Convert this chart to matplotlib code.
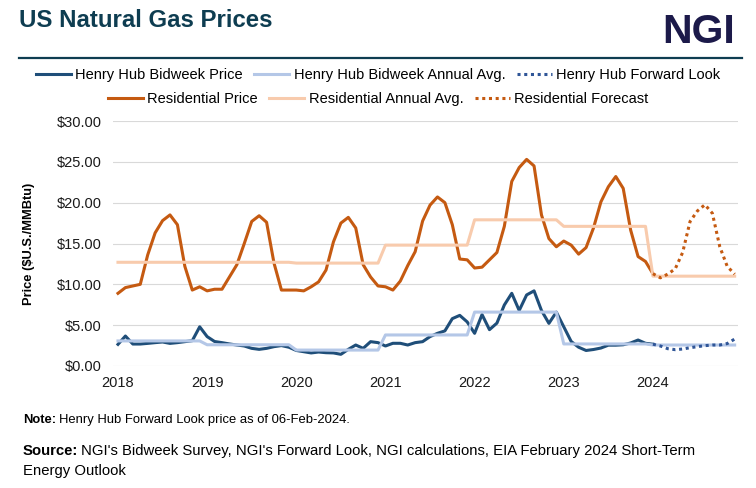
import numpy as np
import matplotlib
matplotlib.use("Agg")
import matplotlib.pyplot as plt
from matplotlib.lines import Line2D

plt.rcParams['font.family'] = ['Liberation Sans', 'DejaVu Sans']

# ---------------- data (monthly, Jan 2018 = index 0) ----------------
years = ['2018', '2019', '2020', '2021', '2022', '2023', '2024']

# Henry Hub bidweek price, Jan 2018 - Jan 2024
hh_bidweek = [2.65, 3.67, 2.69, 2.69, 2.77, 2.86, 2.94, 2.77, 2.86, 2.98, 3.10, 4.80,
              3.60, 3.00, 2.86, 2.70, 2.57, 2.45, 2.16, 2.04, 2.16, 2.37, 2.50, 2.30,
              1.90, 1.75, 1.60, 1.71, 1.63, 1.60, 1.43, 2.04, 2.57, 2.16, 2.98, 2.86,
              2.45, 2.78, 2.78, 2.57, 2.86, 2.98, 3.60, 4.00, 4.30, 5.80, 6.20, 5.40,
              4.00, 6.30, 4.45, 5.25, 7.47, 8.90, 6.80, 8.70, 9.20, 6.80, 5.22, 6.60,
              4.80, 3.00, 2.30, 1.90, 2.02, 2.20, 2.55, 2.55, 2.60, 2.82, 3.18, 2.78,
              2.67]
# Henry Hub forward look, Jan 2024 - Dec 2024
hh_forward = [2.67, 2.45, 2.12, 2.00, 2.08, 2.24, 2.37, 2.49, 2.57, 2.57, 2.75, 3.30]
# Henry Hub bidweek annual averages
hh_annual_avg = [3.07, 2.60, 1.95, 3.80, 6.60, 2.70, 2.57]

# Residential price, Jan 2018 - Jan 2024
res_price = [8.90, 9.60, 9.80, 10.00, 13.60, 16.30, 17.80, 18.50, 17.30, 12.20, 9.30, 9.70,
             9.20, 9.40, 9.40, 10.90, 12.40, 15.00, 17.70, 18.40, 17.60, 12.60, 9.30, 9.30,
             9.30, 9.20, 9.70, 10.30, 11.75, 15.20, 17.50, 18.20, 16.90, 12.40, 10.90, 9.80,
             9.70, 9.30, 10.40, 12.30, 14.00, 17.75, 19.70, 20.70, 20.00, 17.30, 13.10, 13.00,
             12.00, 12.10, 13.00, 13.90, 17.10, 22.60, 24.30, 25.30, 24.50, 18.50, 15.60, 14.60,
             15.30, 14.80, 13.70, 14.50, 16.90, 20.10, 21.95, 23.20, 21.75, 16.65, 13.40, 12.80,
             11.30]
# Residential forecast (EIA STEO), Jan 2024 - Dec 2024
res_forecast = [11.30, 10.80, 11.25, 11.90, 13.90, 17.70, 19.00, 19.75, 18.70, 14.60, 12.20, 11.25]
# Residential annual averages
res_annual_avg = [12.70, 12.70, 12.60, 14.80, 17.90, 17.10, 11.00]

# ---------------- derived x positions ----------------
n_months = 12 * len(years)
x_all = np.arange(n_months)
x_hist = np.arange(len(hh_bidweek))
x_fwd = np.arange(len(hh_bidweek) - 1, len(hh_bidweek) - 1 + len(hh_forward))
x_res = np.arange(len(res_price))
x_resf = np.arange(len(res_price) - 1, len(res_price) - 1 + len(res_forecast))
hh_avg_m = np.repeat(hh_annual_avg, 12)
res_avg_m = np.repeat(res_annual_avg, 12)

# ---------------- style ----------------
C_HH = '#1F4E79'
C_HH_AVG = '#B4C7E7'
C_HH_FWD = '#2F5597'
C_RES = '#C55A11'
C_RES_AVG = '#F8CBAD'
C_TITLE = '#0E3D51'
LW = 2.2
DOT = (0, (1, 1.2))

W, H = 756, 488
fig = plt.figure(figsize=(W / 100, H / 100), dpi=100)
ax = fig.add_axes([113 / W, 1 - 366 / H, (738 - 113) / W, 245 / H])

ax.plot(x_hist, hh_bidweek, color=C_HH, lw=LW, solid_joinstyle='round', zorder=3)
ax.plot(x_all, hh_avg_m, color=C_HH_AVG, lw=LW, zorder=4)
ax.plot(x_fwd, hh_forward, color=C_HH_FWD, lw=LW, linestyle=DOT, zorder=4)
ax.plot(x_res, res_price, color=C_RES, lw=LW, solid_joinstyle='round', zorder=3)
ax.plot(x_all, res_avg_m, color=C_RES_AVG, lw=LW, zorder=4)
ax.plot(x_resf, res_forecast, color=C_RES, lw=LW, linestyle=DOT, zorder=4)

ax.set_ylim(0, 30)
ax.set_xlim(-0.67, 83.45)
ax.set_yticks(np.arange(0, 31, 5))
ax.set_yticklabels([f'${v:.2f}' for v in np.arange(0, 31, 5)])
ax.set_xticks(np.arange(0, n_months, 12))
ax.set_xticklabels(years)
ax.tick_params(axis='both', length=0, labelsize=10.5, colors='#1a1a1a')
ax.tick_params(axis='y', pad=8)
ax.tick_params(axis='x', pad=7)
ax.grid(axis='y', color='#D9D9D9', lw=0.8, zorder=0)
ax.set_axisbelow(True)
for s in ax.spines.values():
    s.set_visible(False)

# y label
fig.text(29.3 / W, 1 - 243.5 / H, 'Price ($U.S./MMBtu)', rotation=90, fontsize=9.3,
         fontweight='bold', ha='center', va='center', color='#000000')

# title, logo, rule
fig.text(19 / W, 1 - 26.7 / H, 'US Natural Gas Prices', fontsize=17.3, fontweight='bold',
         color=C_TITLE, ha='left', va='baseline')
fig.text(662 / W, 1 - 43.3 / H, 'NGI', fontsize=29.5, fontweight='bold',
         color='#1C1A4A', ha='left', va='baseline')
fig.add_artist(Line2D([19.3 / W, 741.6 / W], [1 - 58.3 / H, 1 - 58.3 / H],
                      transform=fig.transFigure, color=C_TITLE, lw=1.6))

# legends (two centered rows)
row1 = [Line2D([], [], color=C_HH, lw=LW),
        Line2D([], [], color=C_HH_AVG, lw=LW),
        Line2D([], [], color=C_HH_FWD, lw=LW, linestyle=DOT)]
lab1 = ['Henry Hub Bidweek Price', 'Henry Hub Bidweek Annual Avg.', 'Henry Hub Forward Look']
row2 = [Line2D([], [], color=C_RES, lw=LW),
        Line2D([], [], color=C_RES_AVG, lw=LW),
        Line2D([], [], color=C_RES, lw=LW, linestyle=DOT)]
lab2 = ['Residential Price', 'Residential Annual Avg.', 'Residential Forecast']
for hs, ls, yc in [(row1, lab1, 75), (row2, lab2, 99.3)]:
    fig.legend(hs, ls, loc='center', bbox_to_anchor=(0.5, 1 - yc / H), ncol=3,
               frameon=False, fontsize=10.5, handlelength=2.4, handletextpad=0.3,
               columnspacing=0.8, borderaxespad=0, borderpad=0)

# notes
renderer = fig.canvas.get_renderer()


def bold_lead(x, y, lead, rest, size):
    t = fig.text(x, y, lead, fontsize=size, fontweight='bold', ha='left', va='center')
    bb = t.get_window_extent(renderer)
    fig.text(x + (bb.width + 3) / W, y, rest, fontsize=size, ha='left', va='center')


bold_lead(23 / W, 1 - 420 / H, 'Note:', 'Henry Hub Forward Look price as of 06-Feb-2024.', 9.4)
bold_lead(23 / W, 1 - 451 / H, 'Source:',
          "NGI's Bidweek Survey, NGI's Forward Look, NGI calculations, EIA February 2024 Short-Term",
          10.75)
fig.text(23 / W, 1 - 470.7 / H, 'Energy Outlook', fontsize=10.75, ha='left', va='center')

fig.savefig('out.png', dpi=100)
